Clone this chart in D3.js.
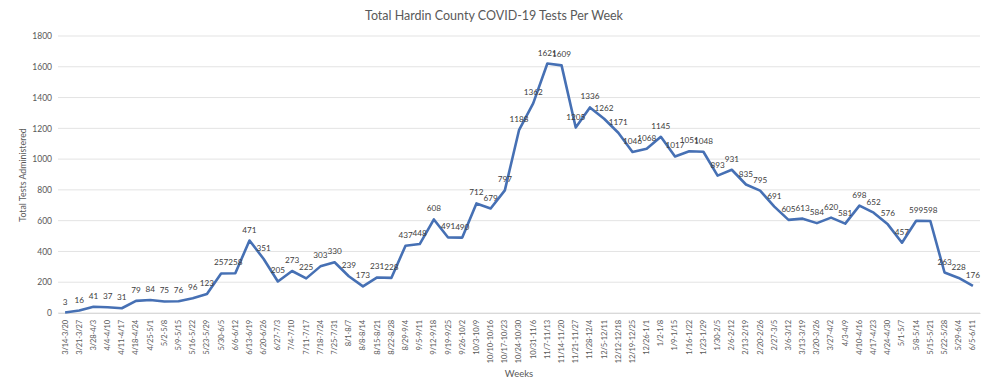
<!DOCTYPE html>
<html><head><meta charset="utf-8">
<script src="https://cdn.jsdelivr.net/npm/d3@7"></script>
<style>
body{margin:0;background:#fff;}
svg{display:block;font-family:Lato,"Liberation Sans",sans-serif;}
</style></head><body>
<svg id="c" width="990" height="387"></svg>
<script>
const weeks = ["3/14-3/20","3/21-3/27","3/28-4/3","4/4-4/10","4/11-4/17","4/18-4/24","4/25-5/1","5/2-5/8","5/9-5/15","5/16-5/22","5/23-5/29","5/30-6/5","6/6-6/12","6/13-6/19","6/20-6/26","6/27-7/3","7/4-7/10","7/11-7/17","7/18-7/24","7/25-7/31","8/1-8/7","8/8-8/14","8/15-8/21","8/22-8/28","8/29-9/4","9/5-9/11","9/12-9/18","9/19-9/25","9/26-10/2","10/3-10/9","10/10-10/16","10/17-10/23","10/24-10/30","10/31-11/6","11/7-11/13","11/14-11/20","11/21-11/27","11/28-12/4","12/5-12/11","12/12-12/18","12/19-12/25","12/26-1/1","1/2-1/8","1/9-1/15","1/16-1/22","1/23-1/29","1/30-2/5","2/6-2/12","2/13-2/19","2/20-2/26","2/27-3/5","3/6-3/12","3/13-3/19","3/20-3/26","3/27-4/2","4/3-4/9","4/10-4/16","4/17-4/23","4/24-4/30","5/1-5/7","5/8-5/14","5/15-5/21","5/22-5/28","5/29-6/4","6/5-6/11"];
const tests = [3,16,41,37,31,79,84,75,76,96,123,257,258,471,351,205,273,225,303,330,239,173,231,228,437,448,608,491,490,712,679,797,1188,1362,1621,1609,1205,1336,1262,1171,1046,1068,1145,1017,1051,1048,893,931,835,795,691,605,613,584,620,581,698,652,576,457,599,598,263,228,176];
const yTicks = [0,200,400,600,800,1000,1200,1400,1600,1800];
const title = "Total Hardin County COVID-19 Tests Per Week";
const yTitle = "Total Tests Administered";
const xTitle = "Weeks";

(function(){
const svg = d3.select("#c");
const mL = 58, mR = 980, mT = 36, mB = 313;
const x = d3.scaleBand().domain(weeks).range([mL, mR]);
const y = d3.scaleLinear().domain([0, 1800]).range([mB, mT]);
const cx = d => x(d) + x.bandwidth()/2;

// gridlines
svg.append("g").selectAll("line").data(yTicks).join("line")
  .attr("x1", mL).attr("x2", mR)
  .attr("y1", d => y(d)).attr("y2", d => y(d))
  .attr("stroke", "#e3e3e3").attr("stroke-width", 1);

// y axis labels
const ya = svg.append("g").attr("transform", `translate(${mL},0)`)
  .call(d3.axisLeft(y).tickValues(yTicks).tickFormat(d3.format("d")).tickSize(0).tickPadding(6));
ya.select(".domain").remove();
ya.selectAll("text").attr("fill", "#595959").style("font-size", "8.5px").style("font-family", "Lato,sans-serif");

// x axis
const xa = svg.append("g").attr("transform", `translate(0,${mB})`)
  .call(d3.axisBottom(x).tickSize(0));
xa.select(".domain").attr("stroke", "#d9d9d9");
xa.selectAll("text")
  .attr("fill", "#595959").style("font-size", "7.6px").style("font-family", "Lato,sans-serif")
  .style("letter-spacing", "-0.15px")
  .attr("transform", "rotate(-90)")
  .attr("text-anchor", "end")
  .attr("x", -7).attr("y", 0).attr("dy", "0.32em");

// line
svg.append("path").datum(tests)
  .attr("fill", "none").attr("stroke", "#4670b4").attr("stroke-width", 2.6)
  .attr("stroke-linejoin", "round")
  .attr("d", d3.line().x((d, i) => cx(weeks[i])).y(d => y(d)));

// data labels
svg.append("g").selectAll("text").data(tests).join("text")
  .attr("x", (d, i) => cx(weeks[i]))
  .attr("y", d => y(d) - 8)
  .attr("text-anchor", "middle")
  .attr("fill", "#404040").style("font-size", "8.2px")
  .text(d => d);

// titles
svg.append("text").attr("x", 494).attr("y", 20).attr("text-anchor", "middle")
  .attr("fill", "#595959").style("font-size", "12.5px").text(title);
svg.append("text").attr("transform", "translate(26,175) rotate(-90)").attr("text-anchor", "middle")
  .attr("fill", "#595959").style("font-size", "8.8px").text(yTitle);
svg.append("text").attr("x", 519).attr("y", 377).attr("text-anchor", "middle")
  .attr("fill", "#595959").style("font-size", "9.5px").text(xTitle);
})();
</script>
</body></html>
